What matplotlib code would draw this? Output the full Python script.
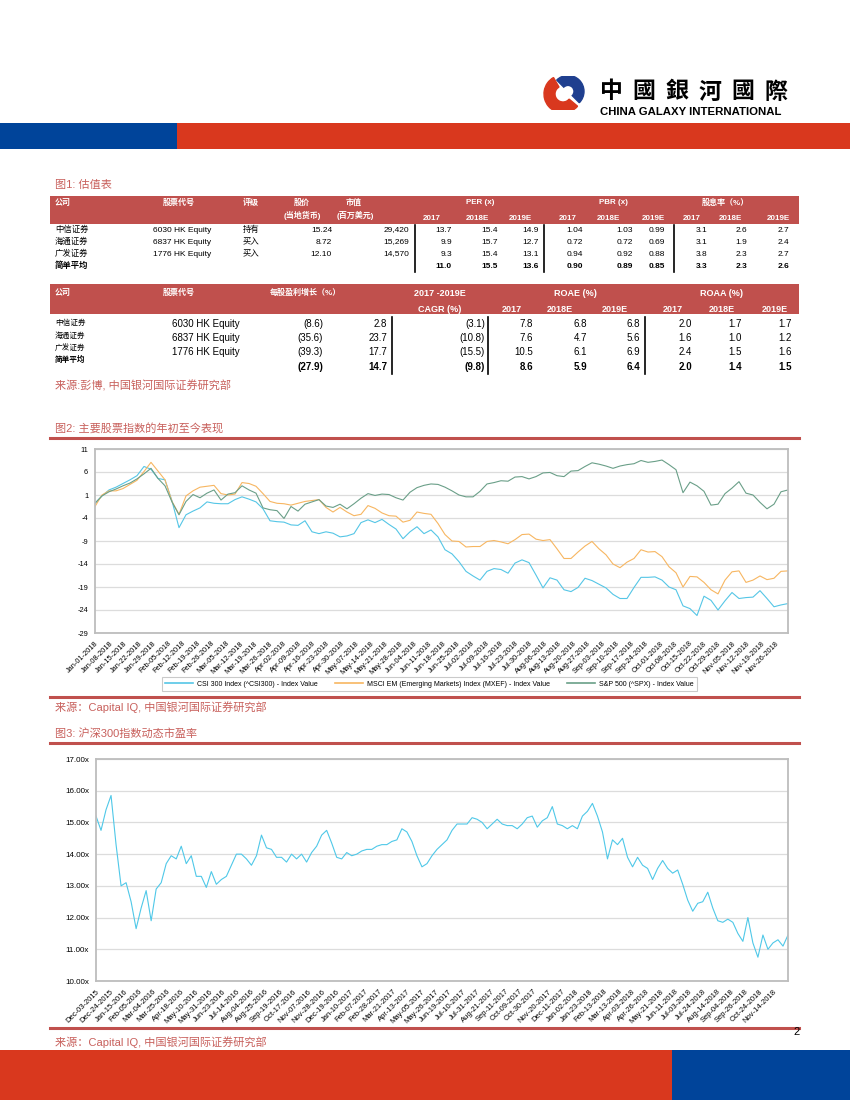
import numpy as np
import pandas as pd
import matplotlib
matplotlib.use("Agg")
import matplotlib.pyplot as plt
from matplotlib.patches import Rectangle, Wedge
from matplotlib.lines import Line2D

plt.rcParams["font.family"] = ["Liberation Sans", "Noto Sans CJK SC", "DejaVu Sans"]

# ---------------- data ----------------
# table 1: valuation
t1_names = ["中信证券", "海通证券", "广发证券"]
t1_codes = ["6030 HK Equity", "6837 HK Equity", "1776 HK Equity"]
t1_rating = ["持有", "买入", "买入"]
t1_price = [15.24, 8.72, 12.10]
t1_mcap = [29420, 15269, 14570]
t1_per = [[13.7, 15.4, 14.9], [9.9, 15.7, 12.7], [9.3, 15.4, 13.1]]
t1_pbr = [[1.04, 1.03, 0.99], [0.72, 0.72, 0.69], [0.94, 0.92, 0.88]]
t1_div = [[3.1, 2.6, 2.7], [3.1, 1.9, 2.4], [3.8, 2.3, 2.7]]
t1_avg_per = [11.0, 15.5, 13.6]
t1_avg_pbr = [0.90, 0.89, 0.85]
t1_avg_div = [3.3, 2.3, 2.6]
years = ["2017", "2018E", "2019E"]

# table 2: growth / returns
t2_eps = [[-8.6, 2.8], [-35.6, 23.7], [-39.3, 17.7]]
t2_cagr = [-3.1, -10.8, -15.5]
t2_roae = [[7.8, 6.8, 6.8], [7.6, 4.7, 5.6], [10.5, 6.1, 6.9]]
t2_roaa = [[2.0, 1.7, 1.7], [1.6, 1.0, 1.2], [2.4, 1.5, 1.6]]
t2_avg_eps = [-27.9, 14.7]
t2_avg_cagr = -9.8
t2_avg_roae = [8.6, 5.9, 6.4]
t2_avg_roaa = [2.0, 1.4, 1.5]

# chart 2: YTD index performance (%), sampled about every 2.4 trading days
idx_start, idx_end = "2018-01-01", "2018-12-02"
csi300 = [-0.8, 0.8, 2.1, 2.7, 3.5, 4.3, 5.2, 7.2, 6.6, 4.6,
          4.3, -0.3, -6.1, -3.3, -2.5, -1.8, -0.5, -0.8, -0.9, -0.9,
          0.0, 0.6, 0.1, -0.5, -2.0, -4.6, -4.8, -4.9, -5.5, -5.6,
          -4.6, -7.0, -7.4, -7.0, -7.3, -8.1, -7.9, -7.4, -5.0, -4.4,
          -5.0, -4.3, -5.4, -6.4, -8.5, -7.0, -5.9, -7.4, -6.6, -8.1,
          -10.9, -11.8, -13.5, -15.6, -16.6, -17.5, -15.6, -15.0, -15.2, -16.0,
          -13.8, -13.1, -13.7, -16.4, -19.2, -17.0, -17.5, -19.6, -20.0, -19.1,
          -17.1, -17.6, -18.4, -19.2, -20.6, -21.5, -21.5, -19.1, -16.9, -16.9,
          -16.8, -17.5, -19.0, -19.6, -23.1, -23.7, -25.2, -21.0, -21.9, -24.0,
          -22.0, -20.2, -21.5, -21.3, -21.2, -19.8, -21.5, -23.3, -22.9, -22.6]
msci_em = [-1.5, 1.0, 1.9, 1.9, 2.4, 3.3, 4.2, 6.1, 8.1, 6.2,
           4.3, -0.4, -3.2, 0.8, 1.9, 2.7, 2.9, 3.1, 1.3, 1.0,
           1.2, 3.7, 3.5, 2.9, 1.3, -0.4, -0.8, -0.9, -1.2, -0.8,
           -0.4, -0.2, 0.0, -1.7, -2.7, -1.7, -2.7, -3.5, -3.2, -1.3,
           -1.9, -2.9, -3.5, -3.6, -4.9, -4.5, -2.7, -3.0, -3.2, -5.2,
           -7.6, -9.0, -9.1, -10.3, -10.2, -10.2, -9.1, -8.9, -9.2, -9.6,
           -8.7, -7.6, -7.5, -8.6, -8.9, -8.7, -10.7, -12.8, -12.8, -11.4,
           -10.1, -9.1, -10.7, -12.0, -14.0, -14.8, -13.6, -12.8, -10.9, -11.4,
           -11.3, -12.4, -14.6, -15.9, -19.0, -16.7, -16.8, -18.0, -19.6, -20.5,
           -17.5, -15.7, -15.5, -18.0, -17.5, -16.6, -17.4, -17.1, -15.6, -15.5]
spx = [-0.8, 0.8, 1.7, 2.3, 3.0, 3.6, 4.5, 5.6, 6.8, 4.6,
       3.0, -0.5, -3.3, -0.4, 1.1, 0.4, 1.4, 2.1, -0.1, 1.2,
       1.5, 3.0, 2.1, 1.4, -1.8, -2.2, -2.4, -4.1, -1.5, -2.5,
       -1.0, -0.5, 0.0, -1.4, -1.7, -1.0, -2.0, -0.9, 0.3, 1.3,
       0.9, 1.2, 1.1, 0.4, -0.1, 1.6, 2.6, 3.1, 3.4, 3.3,
       2.7, 1.9, 1.0, 0.6, 0.6, 1.8, 3.4, 3.7, 4.1, 4.0,
       4.9, 5.0, 4.5, 5.0, 5.8, 5.9, 5.2, 5.0, 6.2, 6.3,
       7.2, 8.0, 7.7, 7.3, 6.8, 7.3, 7.6, 7.8, 8.5, 8.1,
       8.3, 8.6, 7.6, 6.5, 1.5, 3.8, 3.0, 1.8, -1.2, -1.0,
       1.3, 2.5, 3.9, 1.4, 1.0, -0.6, -2.0, -1.0, 1.7, 2.1]
idx_labels = ["CSI 300 Index (^CSI300) - Index Value",
              "MSCI EM (Emerging Markets) Index (MXEF) - Index Value",
              "S&P 500 (^SPX) - Index Value"]
idx_yticks = [11, 6, 1, -4, -9, -14, -19, -24, -29]

# chart 3: CSI300 forward PE, sampled about every 5.3 trading days
pe = [15.2, 14.75, 15.4, 15.85, 14.3, 13.0, 13.1, 12.5, 11.65, 12.3,
      12.85, 11.9, 12.9, 13.1, 13.7, 13.95, 13.85, 14.25, 13.7, 13.95,
      13.3, 13.3, 12.95, 13.45, 13.05, 13.2, 13.3, 13.65, 14.0, 14.0,
      13.85, 13.65, 13.95, 14.6, 14.2, 14.15, 13.9, 13.9, 13.75, 14.0,
      13.85, 14.0, 13.75, 14.05, 14.25, 14.6, 14.75, 14.35, 13.9, 13.85,
      14.05, 13.95, 14.0, 14.1, 14.15, 14.15, 14.25, 14.3, 14.3, 14.4,
      14.45, 14.8, 14.7, 14.4, 13.95, 13.6, 13.7, 13.95, 14.15, 14.3,
      14.45, 14.75, 14.95, 14.95, 14.95, 15.15, 15.1, 15.0, 14.8, 14.95,
      15.1, 14.95, 14.9, 14.9, 14.8, 14.95, 15.15, 15.2, 14.85, 15.05,
      15.15, 15.5, 14.95, 14.9, 14.8, 14.9, 14.8, 15.2, 15.35, 15.6,
      15.2, 14.7, 13.85, 14.45, 14.3, 14.5, 13.9, 13.6, 13.9, 13.65,
      13.55, 13.2, 13.55, 13.8, 13.55, 13.4, 13.5, 13.05, 12.55, 12.2,
      12.45, 12.5, 12.8, 12.3, 11.9, 11.85, 11.95, 11.85, 11.5, 11.25,
      12.0, 11.2, 10.75, 11.45, 11.0, 11.2, 11.3, 11.1, 11.45]
pe_sample_days = 5.33
pe_tick_days = 15
pe_ticks = ["Dec-03-2015", "Dec-24-2015", "Jan-15-2016", "Feb-05-2016", "Mar-04-2016",
            "Mar-25-2016", "Apr-18-2016", "May-10-2016", "May-31-2016", "Jun-23-2016",
            "Jul-14-2016", "Aug-04-2016", "Aug-25-2016", "Sep-19-2016", "Oct-17-2016",
            "Nov-07-2016", "Nov-28-2016", "Dec-19-2016", "Jan-10-2017", "Feb-07-2017",
            "Feb-28-2017", "Mar-21-2017", "Apr-13-2017", "May-05-2017", "May-26-2017",
            "Jun-19-2017", "Jul-10-2017", "Jul-31-2017", "Aug-21-2017", "Sep-11-2017",
            "Oct-09-2017", "Oct-30-2017", "Nov-20-2017", "Dec-11-2017", "Jan-02-2018",
            "Jan-23-2018", "Feb-13-2018", "Mar-13-2018", "Apr-03-2018", "Apr-26-2018",
            "May-21-2018", "Jun-11-2018", "Jul-03-2018", "Jul-24-2018", "Aug-14-2018",
            "Sep-04-2018", "Sep-26-2018", "Oct-24-2018", "Nov-14-2018"]

# ---------------- page helpers ----------------
W, H = 850, 1100
RED = "#c0504d"
SALMON = "#c8605c"
fig = plt.figure(figsize=(W / 100, H / 100), dpi=100)


def fx(x):
    return x / W


def fy(y):
    return 1 - y / H


def box(x0, y0, x1, y1, color):
    fig.add_artist(Rectangle((fx(x0), fy(y1)), (x1 - x0) / W, (y1 - y0) / H,
                             transform=fig.transFigure, color=color, lw=0))


def hline(x0, x1, y, color=RED, lw=2.2):
    fig.add_artist(Line2D([fx(x0), fx(x1)], [fy(y), fy(y)],
                          transform=fig.transFigure, color=color, lw=lw))


def vline(x, y0, y1, color="black", lw=1.2):
    fig.add_artist(Line2D([fx(x), fx(x)], [fy(y0), fy(y1)],
                          transform=fig.transFigure, color=color, lw=lw))


def txt(x, y, s, size=6, ha="left", color="black", weight="normal", **kw):
    fig.text(fx(x), fy(y), s, fontsize=size, ha=ha, va="center",
             color=color, fontweight=weight, **kw)


def paren(v, d=1):
    return f"({abs(v):.{d}f})" if v < 0 else f"{v:.{d}f}"


# ---------------- header / footer ----------------
box(0, 123, 177, 149, "#00449a")
box(177, 123, 850, 149, "#d9381e")
box(0, 1050, 672, 1100, "#d9381e")
box(672, 1050, 850, 1100, "#00449a")

logo = fig.add_axes([538 / W, fy(110), 52 / W, 34 / H])
logo.set_xlim(-1.3, 1.3)
logo.set_ylim(-0.85, 0.85)
logo.axis("off")
logo.add_patch(Wedge((-0.05, -0.05), 0.95, 120, 320, width=0.55, color="#d9381e"))
logo.add_patch(Wedge((0.2, 0.08), 0.8, -45, 135, width=0.5, color="#1f3f8f"))
for j, ch in enumerate("中國銀河國際"):
    txt(611 + 33 * j, 92, ch, size=16.5, ha="center", weight="bold",
        family=["Noto Sans CJK TC"])
txt(600, 112, "CHINA GALAXY INTERNATIONAL", size=8.2, weight="bold",
    family=["Liberation Sans Narrow", "Liberation Sans"])

# ---------------- table 1 ----------------
txt(55, 185, "图1: 估值表", size=8, color=SALMON)
box(50, 196, 799, 224, RED)
hw = dict(color="white", weight="bold", size=5.8)
txt(55, 203, "公司", **hw)
txt(163, 203, "股票代号", **hw)
txt(243, 203, "评级", **hw)
txt(302, 203, "股价", ha="center", **hw)
txt(302, 215, "(当地货币)", ha="center", **hw)
txt(354, 203, "市值", ha="center", **hw)
txt(355, 215, "(百万美元)", ha="center", **hw)
txt(480, 203, "PER (x)", ha="center", **hw)
txt(613, 203, "PBR (x)", ha="center", **hw)
txt(725, 203, "股息率（%）", ha="center", **hw)
for xs in ([432, 477, 520], [568, 608, 653], [692, 730, 778]):
    for x, yr in zip(xs, years):
        txt(x, 219, yr, ha="center", **hw)

rows_y = [230, 242, 254]
per_x, pbr_x, div_x = [452, 498, 539], [583, 633, 665], [707, 747, 789]
fs1 = 6
for i, y in enumerate(rows_y):
    txt(55, y, t1_names[i], size=fs1)
    txt(153, y, t1_codes[i], size=fs1)
    txt(243, y, t1_rating[i], size=fs1)
    txt(332, y, f"{t1_price[i]:.2f}", size=fs1, ha="right")
    txt(409, y, f"{t1_mcap[i]:,}", size=fs1, ha="right")
    for x, v in zip(per_x, t1_per[i]):
        txt(x, y, f"{v:.1f}", size=fs1, ha="right")
    for x, v in zip(pbr_x, t1_pbr[i]):
        txt(x, y, f"{v:.2f}", size=fs1, ha="right")
    for x, v in zip(div_x, t1_div[i]):
        txt(x, y, f"{v:.1f}", size=fs1, ha="right")
txt(55, 266, "简单平均", size=fs1, weight="bold")
for x, v in zip(per_x, t1_avg_per):
    txt(x, 266, f"{v:.1f}", size=fs1, ha="right", weight="bold")
for x, v in zip(pbr_x, t1_avg_pbr):
    txt(x, 266, f"{v:.2f}", size=fs1, ha="right", weight="bold")
for x, v in zip(div_x, t1_avg_div):
    txt(x, 266, f"{v:.1f}", size=fs1, ha="right", weight="bold")
for x in (415, 544, 674):
    vline(x, 225, 272)

# ---------------- table 2 ----------------
box(50, 284, 799, 314, RED)
hw2 = dict(color="white", weight="bold", size=6.5)
txt(55, 293, "公司", **hw)
txt(163, 293, "股票代号", **hw)
txt(305, 293, "每股盈利增长（%）", ha="center", **hw)
txt(440, 293, "2017 -2019E", ha="center", **hw2)
txt(440, 310, "CAGR (%)", ha="center", **hw2)
txt(575, 293, "ROAE (%)", ha="center", **hw2)
txt(722, 293, "ROAA (%)", ha="center", **hw2)
for xs in ([512, 560, 615], [673, 722, 775]):
    for x, yr in zip(xs, years):
        txt(x, 310, yr, ha="center", **hw2)

eps_x, roae_x, roaa_x = [323, 387], [533, 587, 640], [692, 742, 792]
name_y = [323, 336, 349]
val_y = [324, 338, 352]
for i in range(3):
    txt(55, name_y[i], t1_names[i], size=5.5)
    txt(206, val_y[i], t1_codes[i], size=7, ha="center")
    for x, v in zip(eps_x, t2_eps[i]):
        txt(x, val_y[i], paren(v), size=7, ha="right")
    txt(485, val_y[i], paren(t2_cagr[i]), size=7, ha="right")
    for x, v in zip(roae_x, t2_roae[i]):
        txt(x, val_y[i], f"{v:.1f}", size=7, ha="right")
    for x, v in zip(roaa_x, t2_roaa[i]):
        txt(x, val_y[i], f"{v:.1f}", size=7, ha="right")
txt(55, 360, "简单平均", size=5.5, weight="bold")
for x, v in zip(eps_x, t2_avg_eps):
    txt(x, 367, paren(v), size=7, ha="right", weight="bold")
txt(485, 367, paren(t2_avg_cagr), size=7, ha="right", weight="bold")
for x, v in zip(roae_x, t2_avg_roae):
    txt(x, 367, f"{v:.1f}", size=7, ha="right", weight="bold")
for x, v in zip(roaa_x, t2_avg_roaa):
    txt(x, 367, f"{v:.1f}", size=7, ha="right", weight="bold")
for x in (392, 488, 645):
    vline(x, 317, 374)
txt(55, 386, "来源:彭博, 中国银河国际证券研究部", size=8, color=SALMON)

# ---------------- chart 2 ----------------
txt(55, 428, "图2: 主要股票指数的年初至今表现", size=8, color=SALMON)
hline(50, 799, 438)
ax2 = fig.add_axes([fx(95), fy(633), (788 - 95) / W, (633 - 449) / H])
dates = pd.date_range(idx_start, idx_end, periods=len(csi300))
colors2 = ["#55c6e6", "#f7b661", "#6a9f88"]
for series, c in zip([csi300, msci_em, spx], colors2):
    ax2.plot(dates, series, color=c, lw=0.8)
ax2.set_xlim(pd.Timestamp(idx_start), pd.Timestamp(idx_end))
ax2.set_ylim(-29, 11)
ax2.set_yticks(idx_yticks)
ax2.set_yticklabels([str(v) for v in idx_yticks], fontsize=5.3)
wk = pd.date_range(idx_start, "2018-11-26", freq="7D")
ax2.set_xticks(wk)
ax2.set_xticklabels([d.strftime("%b-%d-%Y") for d in wk], rotation=45, ha="right",
                    rotation_mode="anchor", fontsize=5.3)
ax2.tick_params(length=0, pad=5)
ax2.grid(axis="y", color="#dcdcdc", lw=0.9)
ax2.set_axisbelow(True)
for s in ax2.spines.values():
    s.set_color("#bdbdbd")
    s.set_linewidth(1.3)
handles = [Line2D([], [], color=c, lw=1.2) for c in colors2]
leg = fig.legend(handles, idx_labels, loc="center", bbox_to_anchor=(fx(429.5), fy(684)),
                 ncol=3, fontsize=5, frameon=True, fancybox=False, edgecolor="#bdbdbd",
                 handlelength=4, columnspacing=2.5, borderpad=0.5, handletextpad=0.6)
leg.get_frame().set_linewidth(0.8)
hline(50, 799, 697)
txt(55, 707, "来源：Capital IQ, 中国银河国际证券研究部", size=8, color=SALMON)

# ---------------- chart 3 ----------------
txt(55, 733, "图3: 沪深300指数动态市盈率", size=8, color=SALMON)
hline(50, 799, 743)
ax3 = fig.add_axes([fx(96), fy(981), (788 - 96) / W, (981 - 759) / H])
pe_x = np.arange(len(pe)) * pe_sample_days
ax3.plot(pe_x, pe, color="#4fc8e8", lw=0.8)
ax3.set_xlim(0, pe_x[-1])
ax3.set_ylim(10, 17)
ax3.set_yticks(range(10, 18))
ax3.set_yticklabels([f"{v:.2f}x" for v in range(10, 18)], fontsize=5.8)
ax3.set_xticks(np.arange(len(pe_ticks)) * pe_tick_days)
ax3.set_xticklabels(pe_ticks, rotation=45, ha="right", rotation_mode="anchor", fontsize=5.5)
ax3.tick_params(length=0, pad=5)
ax3.grid(axis="y", color="#dcdcdc", lw=0.9)
ax3.set_axisbelow(True)
for s in ax3.spines.values():
    s.set_color("#bdbdbd")
    s.set_linewidth(1.3)
hline(50, 799, 1028)
txt(793, 1032, "2", size=8)
txt(55, 1042, "来源：Capital IQ, 中国银河国际证券研究部", size=8, color=SALMON)

fig.savefig("out.png", dpi=100)
